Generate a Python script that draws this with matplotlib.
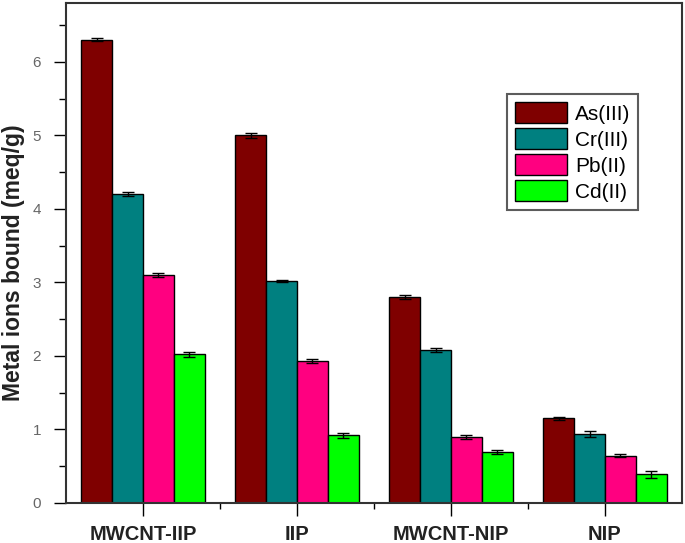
import matplotlib.pyplot as plt
import numpy as np
from matplotlib.ticker import MultipleLocator, FixedLocator

plt.rcParams['font.family'] = ['Liberation Sans', 'DejaVu Sans']

categories = ["MWCNT-IIP", "IIP", "MWCNT-NIP", "NIP"]
ions = ["As(III)", "Cr(III)", "Pb(II)", "Cd(II)"]
as_vals = [6.30, 5.00, 2.80, 1.15]
cr_vals = [4.20, 3.02, 2.08, 0.94]
pb_vals = [3.10, 1.93, 0.90, 0.64]
cd_vals = [2.02, 0.92, 0.69, 0.39]
as_err = [0.02, 0.03, 0.03, 0.02]
cr_err = [0.03, 0.01, 0.03, 0.04]
pb_err = [0.03, 0.03, 0.03, 0.02]
cd_err = [0.04, 0.03, 0.03, 0.05]
colors = ["#7f0000", "#008080", "#ff0080", "#00ff00"]

values = [as_vals, cr_vals, pb_vals, cd_vals]
errors = [as_err, cr_err, pb_err, cd_err]

fig = plt.figure(figsize=(6.85, 5.43), dpi=100)
ax = fig.add_axes([0.0964, 0.0737, 0.8992, 0.9208])

x = np.arange(len(categories))
width = 0.2
for i, (vals, errs) in enumerate(zip(values, errors)):
    pos = x + (i - 1.5) * width
    ax.bar(pos, vals, width, color=colors[i], edgecolor="black",
           linewidth=1.0, label=ions[i], zorder=2)
    ax.errorbar(pos, vals, yerr=errs, fmt="none", ecolor="black",
                elinewidth=1.0, capsize=4, capthick=1.0, zorder=3)

ax.set_xlim(-0.5, 3.5)
ax.set_ylim(0, 6.8)
ax.set_xticks(x)
ax.set_xticklabels(categories, fontsize=14.5, fontweight="bold", color="#222222")
ax.xaxis.set_minor_locator(FixedLocator([0.5, 1.5, 2.5]))
ax.yaxis.set_major_locator(MultipleLocator(1))
ax.yaxis.set_minor_locator(MultipleLocator(0.5))
ax.tick_params(axis="y", which="major", direction="out", length=9, width=1,
               labelsize=11, labelcolor="#666666", pad=9)
ax.tick_params(axis="y", which="minor", direction="out", length=5, width=1)
ax.tick_params(axis="x", which="major", direction="out", length=9, width=1, pad=7)
ax.tick_params(axis="x", which="minor", direction="out", length=4, width=1)
ax.set_ylabel("Metal ions bound (meq/g)", fontsize=16.5, fontweight="bold",
              color="#222222")
ax.yaxis.set_label_coords(-0.066, 0.48)

for s in ax.spines.values():
    s.set_linewidth(1.5)
    s.set_color("#333333")

leg = ax.legend(loc="upper left", bbox_to_anchor=(0.716, 0.818), fontsize=15,
                frameon=True, fancybox=False, edgecolor="#333333",
                handlelength=2.5, handleheight=1.15, handletextpad=0.35,
                labelspacing=0.22, borderpad=0.4, borderaxespad=0)
leg.get_frame().set_linewidth(1.5)

plt.savefig("out.png", dpi=100)
plt.close()
